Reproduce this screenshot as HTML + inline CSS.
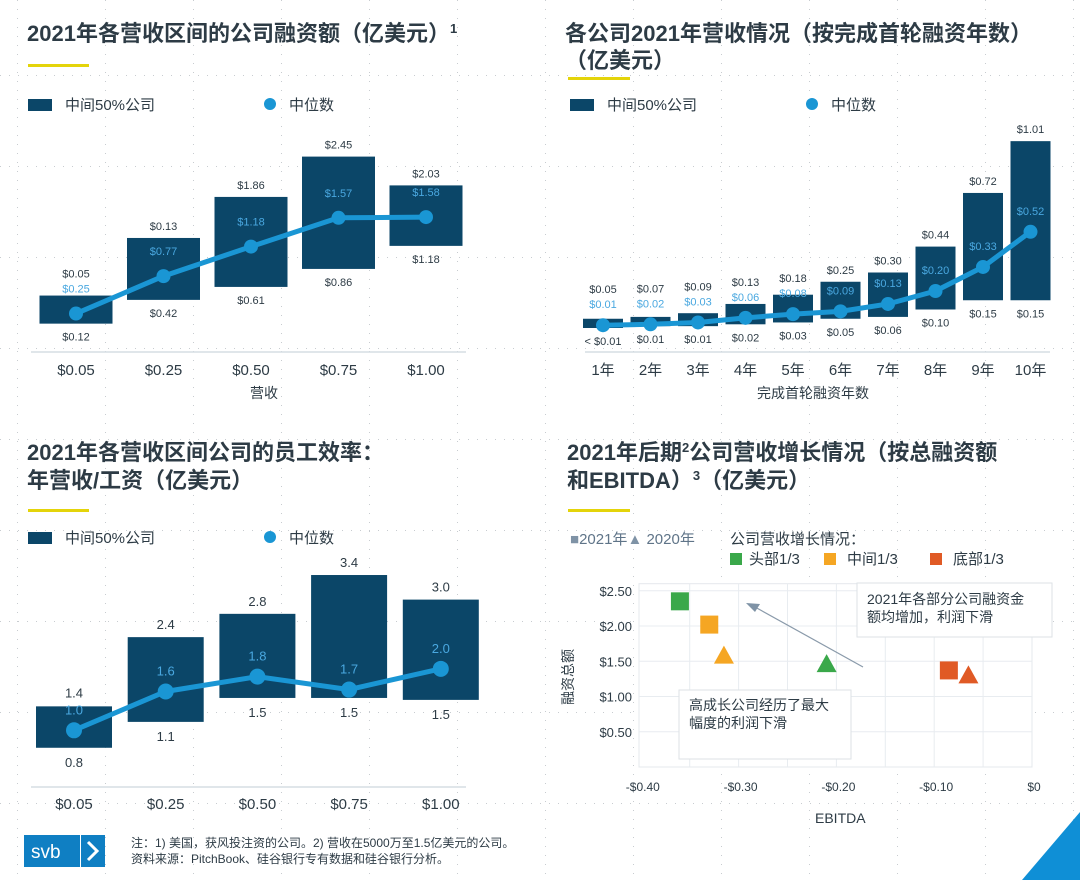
<!DOCTYPE html>
<html><head><meta charset="utf-8"><style>
body{margin:0;background:#fff;}
svg{display:block;font-family:"Liberation Sans","Noto Sans CJK SC",sans-serif;}
</style></head><body>
<svg id="s" width="1080" height="880" viewBox="0 0 1080 880">
<defs>
<pattern id="gv" width="88" height="880" patternUnits="userSpaceOnUse" x="17"><line x1="0.5" y1="0" x2="0.5" y2="880" stroke="#c8ccd0" stroke-dasharray="1 8"/></pattern>
<pattern id="gh" width="1080" height="91" patternUnits="userSpaceOnUse" y="75"><line x1="0" y1="0.5" x2="1080" y2="0.5" stroke="#c8ccd0" stroke-dasharray="1 8"/></pattern>
</defs>
<rect width="1080" height="880" fill="url(#gv)"/>
<rect width="1080" height="880" fill="url(#gh)"/>
<g font-weight="bold" font-size="22" fill="#2d3b45">
<text x="27" y="41">2021年各营收区间的公司融资额（亿美元）<tspan font-size="13" dy="-8">1</tspan></text>
<text x="565" y="41">各公司2021年营收情况（按完成首轮融资年数）</text>
<text x="565" y="68">（亿美元）</text>
<text x="27" y="460">2021年各营收区间公司的员工效率：</text>
<text x="27" y="488">年营收/工资（亿美元）</text>
<text x="567" y="460">2021年后期<tspan font-size="13" dy="-8">2</tspan><tspan dy="8">公司营收增长情况（按总融资额</tspan></text>
<text x="567" y="488">和EBITDA）<tspan font-size="13" dy="-8">3</tspan><tspan dy="8">（亿美元）</tspan></text>
</g>
<g fill="#e4d40a">
<rect x="28" y="64" width="61" height="3"/>
<rect x="568" y="77" width="62" height="3"/>
<rect x="28" y="509" width="61" height="3"/>
<rect x="568" y="509" width="62" height="3"/>
</g>
<g font-size="15" fill="#2d3b45">
<rect x="28" y="99" width="24" height="12" fill="#0b4668"/>
<text x="65" y="110">中间50%公司</text>
<circle cx="270" cy="104" r="6" fill="#1a96d4"/>
<text x="289" y="110">中位数</text>
<rect x="570" y="99" width="24" height="12" fill="#0b4668"/>
<text x="607" y="110">中间50%公司</text>
<circle cx="812" cy="104" r="6" fill="#1a96d4"/>
<text x="831" y="110">中位数</text>
<rect x="28" y="532" width="24" height="12" fill="#0b4668"/>
<text x="65" y="543">中间50%公司</text>
<circle cx="270" cy="537" r="6" fill="#1a96d4"/>
<text x="289" y="543">中位数</text>
</g>
<g id="c1"></g><g id="c2"></g><g id="c3"></g><g id="c4"></g>
<g font-size="14" fill="#2d3b45">
<text x="250" y="398">营收</text>
<text x="757" y="398">完成首轮融资年数</text>
<text x="815" y="823">EBITDA</text>
<text transform="translate(573,705) rotate(-90)">融资总额</text>
</g>
<g font-size="15">
<text x="570" y="544" fill="#5f7488"><tspan fill="#7f93a6">■</tspan>2021年<tspan fill="#7f93a6">▲</tspan> 2020年</text>
<text x="730" y="544" fill="#2d3b45">公司营收增长情况：</text>
<rect x="730" y="553" width="12" height="12" fill="#3aa84a"/>
<text x="749" y="564" fill="#2d3b45">头部1/3</text>
<rect x="824" y="553" width="12" height="12" fill="#f5a623"/>
<text x="847" y="564" fill="#2d3b45">中间1/3</text>
<rect x="930" y="553" width="12" height="12" fill="#e05a25"/>
<text x="953" y="564" fill="#2d3b45">底部1/3</text>
</g>
<g>
<rect x="24" y="835" width="56" height="32" fill="#0f7fc3"/>
<rect x="81" y="835" width="24" height="32" fill="#0f7fc3"/>
<text x="31" y="858" font-size="19" fill="#fff">svb</text>
<path d="M88 842 L97 851 L88 860" fill="none" stroke="#fff" stroke-width="3"/>
</g>
<g font-size="12" fill="#2d3b45">
<text x="131" y="847">注：1) 美国，获风投注资的公司。2) 营收在5000万至1.5亿美元的公司。</text>
<text x="131" y="863">资料来源：PitchBook、硅谷银行专有数据和硅谷银行分析。</text>
</g>
<polygon points="1080,812 1080,880 1022,880" fill="#0f8fd6"/>
</svg>
<script>
// Chart 1 data
const c1Cats = ["$0.05","$0.25","$0.50","$0.75","$1.00"];
const c1Lo = [0.13,0.46,0.64,0.89,1.21];
const c1Hi = [0.52,1.32,1.89,2.45,2.05];
const c1Med = [0.27,0.79,1.20,1.60,1.61];
const c1HiLbl = ["$0.05","$0.13","$1.86","$2.45","$2.03"];
const c1MedLbl = ["$0.25","$0.77","$1.18","$1.57","$1.58"];
const c1LoLbl = ["$0.12","$0.42","$0.61","$0.86","$1.18"];
// Chart 2 data
const c2Cats = ["1年","2年","3年","4年","5年","6年","7年","8年","9年","10年"];
const c2Lo = [0.00,0.01,0.01,0.02,0.03,0.05,0.06,0.10,0.15,0.15];
const c2Hi = [0.05,0.06,0.08,0.13,0.18,0.25,0.30,0.44,0.73,1.01];
const c2Med = [0.015,0.02,0.03,0.055,0.075,0.09,0.13,0.20,0.33,0.52];
const c2HiLbl = ["$0.05","$0.07","$0.09","$0.13","$0.18","$0.25","$0.30","$0.44","$0.72","$1.01"];
const c2MedLbl = ["$0.01","$0.02","$0.03","$0.06","$0.08","$0.09","$0.13","$0.20","$0.33","$0.52"];
const c2LoLbl = ["< $0.01","$0.01","$0.01","$0.02","$0.03","$0.05","$0.06","$0.10","$0.15","$0.15"];
// Chart 3 data
const c3Cats = ["$0.05","$0.25","$0.50","$0.75","$1.00"];
const c3Lo = [0.73,1.13,1.5,1.5,1.47];
const c3Hi = [1.37,2.44,2.8,3.4,3.02];
const c3Med = [1.0,1.6,1.83,1.63,1.95];
const c3HiLbl = ["1.4","2.4","2.8","3.4","3.0"];
const c3MedLbl = ["1.0","1.6","1.8","1.7","2.0"];
const c3LoLbl = ["0.8","1.1","1.5","1.5","1.5"];
// Chart 4 data
const c4X = [-0.36,-0.33,-0.315,-0.21,-0.085,-0.065];
const c4Y = [2.35,2.02,1.58,1.46,1.37,1.30];
const c4Shape = ["sq","sq","tri","tri","sq","tri"];
const c4Color = ["#3aa84a","#f5a623","#f5a623","#3aa84a","#e05a25","#e05a25"];
const c4XTicks = [-0.40,-0.30,-0.20,-0.10,0];
const c4XTickLbl = ["-$0.40","-$0.30","-$0.20","-$0.10","$0"];
const c4YTicks = [0.5,1.0,1.5,2.0,2.5];
const c4YTickLbl = ["$0.50","$1.00","$1.50","$2.00","$2.50"];

const NS="http://www.w3.org/2000/svg";
function mk(p,tag,at){const e=document.createElementNS(NS,tag);for(const k in at)e.setAttribute(k,at[k]);p.appendChild(e);return e;}
function txt(p,x,y,s,size,fill,anchor){const t=mk(p,"text",{x:x,y:y,"font-size":size,fill:fill,"text-anchor":anchor||"middle"});t.textContent=s;return t;}

function boxChart(gid,cats,lo,hi,med,hiL,medL,loL,xf,yf,bw,base,axisY,lblY,fs,pre,dotR,lw,medGap){
  const g=document.getElementById(gid);
  const ax=mk(g,"line",{x1:base[0],x2:base[1],y1:axisY,y2:axisY,stroke:"#d5dde4","stroke-width":1.5});
  
  
  cats.forEach((c,i)=>{
    const x=xf(i);
    const r=mk(g,"rect",{x:x-bw/2,y:yf(hi[i]),width:bw,height:yf(lo[i])-yf(hi[i]),fill:"#0b4668"});
    
    
    const medY=Math.min(yf(med[i])-dotR-medGap, yf(lo[i])-4);
    const hiY=Math.min(yf(hi[i])-8, medY-fs-4);
    const a=txt(g,x,hiY,hiL[i],fs,"#2d3b45");
    
    
    const b=txt(g,x,yf(lo[i])+fs+6,loL[i],fs,"#2d3b45");
    
    
    const t=txt(g,x,lblY,c,15,"#2d3b45");
    
    
  });
  let d="";cats.forEach((c,i)=>{d+=(i?"L":"M")+xf(i)+" "+yf(med[i]);});
  const ln=mk(g,"path",{d:d,fill:"none",stroke:"#1a96d4","stroke-width":lw});
  
  
  cats.forEach((c,i)=>{
    const ci=mk(g,"circle",{cx:xf(i),cy:yf(med[i]),r:dotR,fill:"#1a96d4"});
    
    
    const medY=Math.min(yf(med[i])-dotR-medGap, yf(lo[i])-4);
    const m=txt(g,xf(i),medY,medL[i],fs,"#4aa8e0");
    
    
  });
}
boxChart("c1",c1Cats,c1Lo,c1Hi,c1Med,c1HiLbl,c1MedLbl,c1LoLbl,i=>76+87.5*i,v=>333-72*v,73,[31,466],352,375,11,"chart1",7,5,14);
boxChart("c2",c2Cats,c2Lo,c2Hi,c2Med,c2HiLbl,c2MedLbl,c2LoLbl,i=>603+47.5*i,v=>328-185*v,40,[585,1050],352,375,11,"chart2",7,5,10);
boxChart("c3",c3Cats,c3Lo,c3Hi,c3Med,c3HiLbl,c3MedLbl,c3LoLbl,i=>74+91.7*i,v=>795-64.7*v,76,[31,466],787,809,13,"chart3",8,5,8);

// scatter
(function(){
  const g=document.getElementById("c4");
  const xf=v=>1032+v*978, yf=v=>767-70.5*v;
  const bg=mk(g,"rect",{x:639,y:yf(2.6),width:393,height:yf(0)-yf(2.6),fill:"#fff",stroke:"#e4e8ec"});
  
  
  for(let k=1;k<8;k++){const l=mk(g,"line",{x1:xf(-0.40+0.05*k),x2:xf(-0.40+0.05*k),y1:yf(2.6),y2:yf(0),stroke:"#e8ecf0"});
    
    }
  c4YTicks.forEach((v,i)=>{
    const l=mk(g,"line",{x1:639,x2:1032,y1:yf(v),y2:yf(v),stroke:"#e8ecf0"});
    
    
    const t=txt(g,632,yf(v)+5,c4YTickLbl[i],13,"#2d3b45","end");
    
    
  });
  c4XTicks.forEach((v,i)=>{
    const t=txt(g,xf(v)+2,791,c4XTickLbl[i],12,"#2d3b45");
    
    
  });
  const ar=mk(g,"line",{x1:863,y1:667,x2:755,y2:607,stroke:"#8a9aaa","stroke-width":1.2});
  
  
  const ah=mk(g,"polygon",{points:"746,603 760,604 755,612",fill:"#7f93a6"});
  
  
  c4X.forEach((v,i)=>{
    const x=xf(v),y=yf(c4Y[i]);let e;
    if(c4Shape[i]=="sq") e=mk(g,"rect",{x:x-9,y:y-9,width:18,height:18,fill:c4Color[i]});
    else e=mk(g,"polygon",{points:(x)+","+(y-10)+" "+(x-10)+","+(y+8)+" "+(x+10)+","+(y+8),fill:c4Color[i]});
    
    
  });
  const b1=mk(g,"rect",{x:857,y:583,width:195,height:54,fill:"#fff",stroke:"#dde2e6"});
  
  
  const t1=txt(g,867,604,"2021年各部分公司融资金",14,"#2d3b45","start");
  
  
  const t2=txt(g,867,622,"额均增加，利润下滑",14,"#2d3b45","start");
  
  
  const b2=mk(g,"rect",{x:679,y:690,width:172,height:69,fill:"#fff",stroke:"#dde2e6"});
  
  
  const t3=txt(g,689,710,"高成长公司经历了最大",14,"#2d3b45","start");
  
  
  const t4=txt(g,689,728,"幅度的利润下滑",14,"#2d3b45","start");
  
  
})();
</script>
</body></html>
